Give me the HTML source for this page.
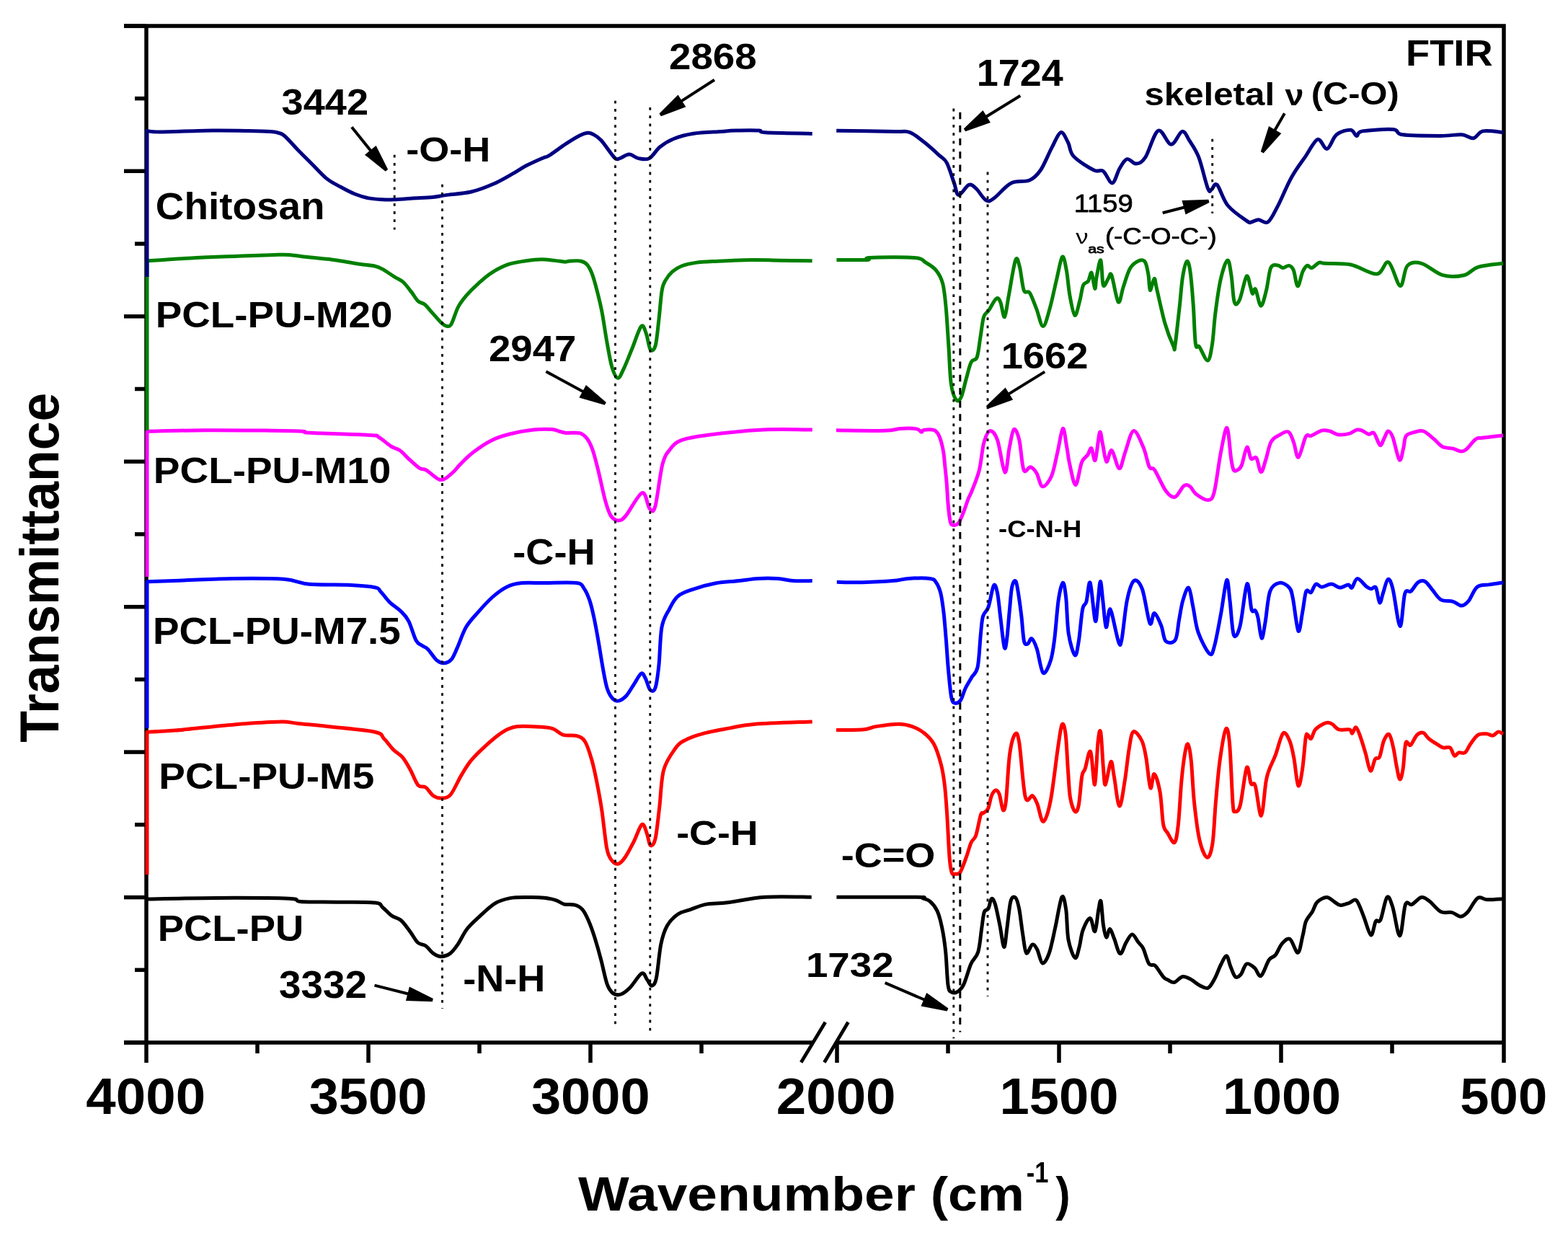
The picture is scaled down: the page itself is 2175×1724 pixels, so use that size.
<!DOCTYPE html>
<html><head><meta charset="utf-8"><title>FTIR</title>
<style>html,body{margin:0;padding:0;background:#fff;}svg{display:block;}</style></head>
<body><svg width="2175" height="1724" viewBox="0 0 2175 1724">
<rect width="2175" height="1724" fill="#fff"/>
<g stroke="#000" stroke-width="5.5" fill="none" stroke-linecap="butt">
<path d="M172,35.9 H2088.75 M203,33.15 V1474 M2086,33.15 V1474 M172,1446 H1127.8 M1160,1446 H2088.75"/>
<path d="M172,35.9 H203"/>
<path d="M187,136.6 H203"/>
<path d="M172,237.3 H203"/>
<path d="M187,338.1 H203"/>
<path d="M172,438.8 H203"/>
<path d="M187,539.5 H203"/>
<path d="M172,640.2 H203"/>
<path d="M187,740.9 H203"/>
<path d="M172,841.7 H203"/>
<path d="M187,942.4 H203"/>
<path d="M172,1043.1 H203"/>
<path d="M187,1143.8 H203"/>
<path d="M172,1244.6 H203"/>
<path d="M187,1345.3 H203"/>
<path d="M172,1446.0 H203"/>
<path d="M511.0,1446 V1474"/>
<path d="M819.0,1446 V1474"/>
<path d="M357.0,1446 V1461"/>
<path d="M665.0,1446 V1461"/>
<path d="M973.0,1446 V1461"/>
<path d="M1161.0,1446 V1474"/>
<path d="M1469.0,1446 V1474"/>
<path d="M1777.0,1446 V1474"/>
<path d="M1315.0,1446 V1461"/>
<path d="M1623.0,1446 V1461"/>
<path d="M1931.0,1446 V1461"/>
</g>
<g stroke="#000" stroke-width="4.8" fill="none"><path d="M1111.2,1473.5 L1144.8,1417.8 M1143.4,1473.5 L1176.5,1417.8"/></g>
<g fill="none" stroke-width="5" stroke-linejoin="round" stroke-linecap="butt">
<path stroke="#000000" d="M205.0,1247.0 C220.9,1246.7 267.6,1245.5 300.2,1245.4 C332.8,1245.3 380.9,1245.4 400.4,1246.2 C419.9,1247.0 405.9,1249.6 417.0,1250.4 C428.1,1251.2 450.0,1250.9 467.2,1251.2 C484.4,1251.5 509.4,1250.8 520.0,1252.0 C530.6,1253.2 526.8,1255.4 530.7,1258.4 C534.6,1261.4 539.2,1267.1 543.5,1270.1 C547.8,1273.1 552.0,1272.8 556.3,1276.5 C560.6,1280.2 565.2,1287.3 569.1,1292.5 C573.0,1297.7 576.2,1304.3 579.7,1307.5 C583.2,1310.7 586.8,1309.2 590.4,1311.7 C594.0,1314.2 597.5,1319.9 601.1,1322.4 C604.7,1324.9 607.8,1326.7 611.7,1326.7 C615.6,1326.7 620.6,1325.2 624.5,1322.4 C628.4,1319.6 631.3,1315.3 635.2,1309.6 C639.1,1303.9 643.0,1294.7 648.0,1288.3 C653.0,1281.9 658.7,1277.1 665.1,1271.2 C671.5,1265.3 679.3,1257.4 686.4,1253.1 C693.5,1248.8 700.0,1247.0 707.8,1245.6 C715.6,1244.2 725.6,1244.6 733.4,1244.5 C741.2,1244.4 748.3,1244.5 754.7,1245.2 C761.1,1245.9 767.2,1247.3 771.8,1248.8 C776.4,1250.3 778.1,1253.0 782.4,1254.1 C786.7,1255.2 793.1,1254.0 797.4,1255.2 C801.7,1256.5 804.8,1257.9 808.0,1261.6 C811.2,1265.3 813.8,1271.0 816.6,1277.6 C819.5,1284.2 822.3,1292.2 825.1,1301.1 C827.9,1310.0 830.8,1320.2 833.6,1330.9 C836.5,1341.6 839.4,1357.3 842.2,1365.1 C845.1,1372.9 847.5,1375.6 850.7,1377.9 C853.9,1380.2 857.5,1380.4 861.4,1379.0 C865.3,1377.6 869.4,1374.2 874.2,1369.4 C879.0,1364.6 886.3,1351.9 890.2,1350.1 C894.1,1348.3 895.3,1355.8 897.6,1358.7 C899.9,1361.6 901.9,1367.6 904.0,1367.2 C906.1,1366.8 908.3,1366.1 910.4,1356.5 C912.5,1346.9 914.3,1321.7 916.8,1309.6 C919.3,1297.5 921.5,1290.9 925.4,1284.0 C929.3,1277.1 935.0,1271.7 940.3,1268.0 C945.6,1264.3 950.8,1263.9 957.4,1261.6 C964.0,1259.3 971.3,1255.7 980.0,1254.1 C988.7,1252.5 996.1,1253.4 1009.6,1251.8 C1023.1,1250.2 1041.6,1245.5 1060.9,1244.3 C1080.2,1243.0 1114.9,1244.3 1125.7,1244.3"/>
<path stroke="#000000" d="M1160.4,1244.3 C1179.0,1244.3 1252.0,1244.0 1271.9,1244.3 C1291.8,1244.6 1277.0,1244.9 1280.0,1245.9 C1283.0,1246.9 1286.7,1247.2 1290.0,1250.1 C1293.3,1253.0 1297.2,1257.3 1300.0,1263.4 C1302.8,1269.5 1304.8,1277.3 1306.7,1286.8 C1308.7,1296.3 1310.3,1306.8 1311.7,1320.2 C1313.1,1333.6 1313.7,1357.6 1315.1,1366.9 C1316.5,1376.2 1317.9,1374.7 1320.1,1376.1 C1322.3,1377.5 1325.6,1377.1 1328.4,1375.3 C1331.2,1373.5 1333.7,1371.7 1336.8,1365.3 C1339.9,1358.9 1343.5,1344.4 1346.8,1336.9 C1350.1,1329.4 1354.3,1328.6 1356.8,1320.2 C1359.3,1311.8 1360.4,1296.0 1361.8,1286.8 C1363.2,1277.6 1363.7,1269.5 1365.2,1265.1 C1366.7,1260.6 1369.3,1263.2 1371.0,1260.1 C1372.7,1257.0 1373.7,1247.8 1375.2,1246.7 C1376.7,1245.6 1378.2,1247.3 1380.2,1253.4 C1382.2,1259.5 1384.8,1273.4 1386.9,1283.4 C1389.0,1293.4 1391.0,1312.9 1392.7,1313.5 C1394.4,1314.1 1395.4,1297.4 1396.9,1286.8 C1398.4,1276.2 1400.0,1257.1 1401.9,1250.1 C1403.9,1243.1 1406.6,1243.3 1408.6,1245.0 C1410.5,1246.7 1411.9,1251.8 1413.6,1260.1 C1415.3,1268.4 1416.9,1284.8 1418.6,1295.1 C1420.3,1305.4 1421.4,1319.4 1423.6,1321.9 C1425.8,1324.4 1429.4,1311.1 1431.9,1310.2 C1434.4,1309.3 1436.2,1312.5 1438.6,1316.8 C1441.0,1321.1 1443.3,1335.2 1446.1,1336.0 C1448.9,1336.8 1452.4,1330.1 1455.3,1321.9 C1458.2,1313.7 1460.8,1299.8 1463.7,1286.8 C1466.6,1273.8 1470.4,1248.4 1472.9,1244.2 C1475.4,1240.0 1477.2,1251.8 1478.7,1261.7 C1480.2,1271.6 1479.9,1292.4 1482.0,1303.5 C1484.1,1314.6 1488.7,1326.8 1491.2,1328.5 C1493.7,1330.2 1495.3,1319.9 1497.1,1313.5 C1498.9,1307.1 1499.6,1296.8 1502.1,1290.1 C1504.6,1283.4 1509.3,1273.1 1512.1,1273.4 C1514.9,1273.7 1516.8,1293.8 1518.8,1291.8 C1520.8,1289.8 1522.4,1268.7 1523.8,1261.7 C1525.2,1254.8 1526.0,1246.5 1527.1,1250.1 C1528.2,1253.7 1529.2,1275.1 1530.5,1283.4 C1531.8,1291.7 1533.1,1299.2 1534.6,1300.1 C1536.1,1300.9 1537.8,1288.2 1539.6,1288.5 C1541.4,1288.8 1543.1,1296.1 1545.5,1301.8 C1547.9,1307.5 1551.0,1321.9 1553.8,1322.7 C1556.6,1323.5 1559.4,1311.2 1562.2,1306.8 C1565.0,1302.3 1567.7,1296.0 1570.5,1296.0 C1573.3,1296.0 1576.4,1303.6 1578.9,1306.8 C1581.4,1310.0 1583.1,1310.2 1585.6,1315.2 C1588.1,1320.2 1591.1,1332.9 1593.9,1336.9 C1596.7,1340.9 1599.0,1336.4 1602.3,1339.4 C1605.6,1342.5 1611.0,1351.9 1614.0,1355.2 C1617.0,1358.5 1617.5,1357.9 1620.0,1359.1 C1622.5,1360.3 1625.6,1363.2 1628.9,1362.5 C1632.2,1361.8 1636.3,1355.5 1640.0,1354.7 C1643.7,1354.0 1647.1,1356.0 1651.2,1358.0 C1655.3,1360.0 1660.4,1364.9 1664.5,1366.9 C1668.6,1369.0 1672.4,1371.8 1675.7,1370.3 C1679.0,1368.8 1681.6,1363.4 1684.6,1358.0 C1687.6,1352.6 1690.7,1343.4 1693.5,1338.0 C1696.3,1332.6 1699.1,1325.4 1701.3,1325.8 C1703.5,1326.2 1704.8,1335.4 1706.8,1340.2 C1708.8,1345.0 1711.1,1352.8 1713.5,1354.7 C1715.9,1356.6 1718.7,1354.4 1721.3,1351.4 C1723.9,1348.4 1725.9,1338.4 1729.1,1336.9 C1732.2,1335.4 1736.9,1339.6 1740.2,1342.4 C1743.5,1345.2 1745.8,1355.4 1749.1,1353.6 C1752.4,1351.8 1756.9,1336.1 1760.3,1331.3 C1763.7,1326.5 1766.2,1328.3 1769.2,1324.6 C1772.2,1320.9 1774.8,1312.8 1778.1,1309.1 C1781.4,1305.4 1785.5,1300.4 1789.2,1302.4 C1792.9,1304.4 1797.3,1322.0 1800.3,1321.3 C1803.3,1320.5 1805.1,1305.1 1807.0,1297.9 C1808.9,1290.7 1809.3,1283.5 1811.5,1277.9 C1813.7,1272.3 1817.8,1269.0 1820.4,1264.5 C1823.0,1260.0 1823.7,1254.5 1827.0,1251.2 C1830.3,1247.9 1836.3,1244.5 1840.4,1244.5 C1844.5,1244.5 1848.3,1249.4 1851.5,1251.2 C1854.7,1253.0 1856.0,1255.4 1859.3,1255.6 C1862.6,1255.8 1867.9,1253.4 1871.6,1252.3 C1875.3,1251.2 1878.3,1245.8 1881.6,1248.9 C1884.9,1252.1 1888.3,1263.2 1891.6,1271.2 C1894.9,1279.2 1898.8,1295.7 1901.6,1296.8 C1904.4,1297.9 1906.1,1281.4 1908.3,1277.9 C1910.5,1274.4 1912.4,1281.3 1915.0,1275.7 C1917.6,1270.1 1921.1,1247.5 1923.9,1244.5 C1926.7,1241.5 1928.7,1248.9 1931.7,1257.8 C1934.7,1266.7 1938.7,1298.5 1941.7,1297.9 C1944.7,1297.4 1946.7,1261.7 1949.5,1254.5 C1952.3,1247.3 1954.7,1256.2 1958.4,1254.5 C1962.1,1252.8 1967.7,1245.2 1971.8,1244.5 C1975.9,1243.8 1978.5,1246.8 1982.9,1250.1 C1987.4,1253.4 1993.3,1261.9 1998.5,1264.5 C2003.7,1267.1 2009.5,1264.5 2014.1,1265.6 C2018.7,1266.7 2022.6,1271.4 2026.3,1271.2 C2030.0,1271.0 2032.4,1268.8 2036.3,1264.5 C2040.2,1260.2 2045.2,1248.4 2049.7,1245.6 C2054.1,1242.8 2057.1,1247.6 2063.0,1247.8 C2068.9,1248.0 2081.3,1246.9 2085.0,1246.7"/>
<path stroke="#ff0000" d="M204.0,1213.0 L204.0,1015.2 C210.4,1014.9 227.4,1014.4 242.7,1013.1 C258.0,1011.9 278.2,1009.4 296.0,1007.7 C313.8,1006.0 333.3,1004.1 349.3,1003.0 C365.3,1001.9 381.3,1000.8 392.0,1000.9 C402.7,1001.0 402.7,1002.4 413.4,1003.5 C424.1,1004.6 438.2,1005.8 456.0,1007.7 C473.8,1009.7 507.2,1012.4 520.0,1015.2 C532.8,1018.1 528.5,1020.7 532.8,1024.8 C537.1,1028.9 541.3,1035.4 545.6,1039.7 C549.9,1044.0 554.5,1045.8 558.4,1050.4 C562.3,1055.0 565.5,1061.1 569.1,1067.5 C572.7,1073.9 576.2,1084.7 579.8,1088.8 C583.3,1092.9 586.8,1089.5 590.4,1092.0 C594.0,1094.5 597.5,1101.2 601.1,1103.7 C604.7,1106.2 607.9,1107.1 611.8,1106.9 C615.7,1106.7 619.9,1108.0 624.6,1102.7 C629.3,1097.4 635.1,1083.2 640.0,1075.1 C644.9,1067.0 648.1,1061.2 653.9,1054.2 C659.7,1047.2 667.4,1039.9 674.8,1033.3 C682.1,1026.7 691.0,1019.0 698.0,1014.8 C705.0,1010.5 709.5,1009.0 716.5,1007.8 C723.5,1006.6 731.6,1007.4 739.7,1007.8 C747.8,1008.2 758.2,1008.2 765.2,1010.1 C772.2,1012.0 775.7,1017.6 781.5,1019.4 C787.3,1021.1 795.0,1019.0 800.0,1020.6 C805.0,1022.2 808.1,1023.1 811.6,1028.7 C815.1,1034.3 818.2,1044.9 820.9,1054.2 C823.6,1063.5 825.5,1072.8 827.8,1084.4 C830.1,1096.0 832.5,1108.3 834.8,1123.8 C837.1,1139.2 839.5,1165.5 841.8,1177.1 C844.1,1188.7 846.0,1189.9 848.7,1193.4 C851.4,1196.9 854.9,1198.8 858.0,1198.0 C861.1,1197.2 863.8,1193.7 867.3,1188.7 C870.8,1183.7 875.0,1175.3 878.9,1167.8 C882.8,1160.3 887.4,1145.4 890.5,1143.5 C893.6,1141.6 895.5,1151.5 897.4,1156.3 C899.3,1161.1 900.2,1171.3 902.1,1172.5 C904.0,1173.7 906.9,1172.1 909.0,1163.2 C911.1,1154.3 912.9,1134.9 914.8,1119.1 C916.7,1103.2 916.9,1081.6 920.6,1068.1 C924.3,1054.6 931.8,1045.0 936.8,1038.0 C941.8,1031.0 944.2,1029.9 950.8,1026.4 C957.4,1022.9 966.3,1019.8 976.3,1017.1 C986.3,1014.4 999.4,1012.2 1011.0,1010.1 C1022.6,1008.0 1026.5,1005.9 1045.8,1004.4 C1065.1,1002.9 1113.2,1001.5 1126.7,1000.9"/>
<path stroke="#ff0000" d="M1160.0,1012.6 C1166.4,1012.5 1189.2,1012.5 1198.4,1011.7 C1207.6,1010.9 1207.0,1008.9 1215.1,1007.6 C1223.2,1006.4 1238.6,1004.2 1246.9,1004.2 C1255.2,1004.2 1259.4,1005.5 1265.2,1007.6 C1271.0,1009.7 1276.9,1012.7 1281.9,1016.7 C1286.9,1020.7 1291.4,1024.6 1295.3,1031.8 C1299.2,1039.0 1302.8,1050.6 1305.3,1060.1 C1307.8,1069.5 1308.9,1076.8 1310.3,1088.5 C1311.7,1100.2 1312.6,1113.6 1313.7,1130.3 C1314.8,1147.0 1315.9,1175.3 1317.0,1188.7 C1318.1,1202.1 1318.9,1206.5 1320.3,1210.4 C1321.7,1214.3 1323.3,1212.2 1325.3,1212.1 C1327.2,1212.0 1329.5,1213.5 1332.0,1209.6 C1334.5,1205.7 1337.9,1195.5 1340.4,1188.7 C1342.9,1181.9 1344.8,1173.7 1347.0,1168.7 C1349.2,1163.7 1351.5,1165.1 1353.7,1158.7 C1355.9,1152.3 1358.7,1135.5 1360.4,1130.3 C1362.1,1125.1 1362.0,1129.2 1363.7,1127.8 C1365.4,1126.4 1368.5,1125.9 1370.4,1121.9 C1372.4,1117.9 1373.6,1107.9 1375.4,1103.6 C1377.2,1099.3 1379.5,1096.3 1381.3,1096.0 C1383.1,1095.7 1384.6,1097.3 1386.3,1101.9 C1388.0,1106.5 1389.8,1122.2 1391.3,1123.6 C1392.8,1125.0 1394.0,1123.0 1395.5,1110.2 C1397.0,1097.4 1398.4,1062.1 1400.5,1046.8 C1402.6,1031.5 1405.8,1021.2 1408.0,1018.4 C1410.2,1015.6 1411.4,1015.6 1413.8,1030.1 C1416.2,1044.6 1419.1,1093.0 1422.2,1105.2 C1425.3,1117.5 1429.4,1101.9 1432.2,1103.6 C1435.0,1105.3 1436.4,1109.2 1438.9,1115.2 C1441.4,1121.2 1444.1,1140.3 1447.2,1139.5 C1450.3,1138.7 1454.0,1127.0 1457.3,1110.2 C1460.6,1093.4 1464.7,1055.9 1467.3,1038.4 C1469.9,1020.9 1471.3,1008.3 1473.1,1005.0 C1474.9,1001.7 1476.7,1007.7 1478.1,1018.4 C1479.5,1029.1 1480.4,1054.5 1481.5,1069.1 C1482.6,1083.7 1482.9,1096.8 1484.5,1106.2 C1486.1,1115.6 1489.1,1123.8 1491.1,1125.5 C1493.1,1127.2 1494.7,1124.7 1496.3,1116.5 C1497.9,1108.3 1499.3,1084.9 1500.8,1076.5 C1502.3,1068.1 1503.2,1071.8 1505.2,1066.1 C1507.2,1060.4 1510.5,1038.6 1512.7,1042.3 C1514.9,1046.0 1516.9,1090.5 1518.6,1088.3 C1520.3,1086.1 1521.6,1041.1 1523.0,1029.0 C1524.4,1016.9 1525.5,1009.4 1526.8,1015.6 C1528.0,1021.8 1529.4,1054.0 1530.5,1066.1 C1531.6,1078.2 1531.7,1089.9 1533.4,1088.3 C1535.1,1086.7 1538.9,1058.4 1540.9,1056.4 C1542.9,1054.4 1543.3,1066.2 1545.3,1076.5 C1547.3,1086.8 1550.2,1116.8 1552.7,1118.0 C1555.2,1119.2 1557.9,1097.0 1560.1,1083.9 C1562.3,1070.8 1564.1,1050.9 1566.1,1039.4 C1568.1,1027.9 1569.0,1016.9 1572.0,1014.9 C1575.0,1012.9 1580.9,1021.5 1583.9,1027.5 C1586.9,1033.5 1587.8,1040.3 1589.8,1051.2 C1591.8,1062.1 1593.9,1089.1 1595.8,1092.8 C1597.7,1096.5 1598.8,1072.5 1601.0,1073.5 C1603.2,1074.5 1607.0,1087.1 1609.1,1098.7 C1611.2,1110.3 1611.9,1133.9 1613.6,1143.3 C1615.3,1152.7 1616.9,1150.9 1619.5,1155.1 C1622.1,1159.3 1626.7,1170.5 1629.2,1168.5 C1631.7,1166.5 1632.8,1157.4 1634.4,1143.3 C1636.0,1129.2 1637.3,1100.0 1638.8,1083.9 C1640.3,1067.8 1641.8,1055.5 1643.3,1046.8 C1644.8,1038.1 1646.2,1030.7 1647.7,1031.9 C1649.2,1033.1 1650.7,1040.6 1652.2,1054.2 C1653.7,1067.8 1654.6,1095.0 1656.6,1113.6 C1658.6,1132.1 1661.0,1152.9 1664.0,1165.5 C1667.0,1178.1 1671.4,1188.5 1674.4,1189.3 C1677.4,1190.0 1679.9,1182.6 1681.9,1170.0 C1683.9,1157.4 1684.6,1132.9 1686.3,1113.6 C1688.0,1094.3 1689.8,1071.3 1692.2,1054.2 C1694.6,1037.1 1698.2,1014.9 1700.4,1011.2 C1702.6,1007.5 1704.0,1014.8 1705.6,1031.9 C1707.2,1049.0 1708.8,1098.0 1710.0,1113.6 C1711.2,1129.2 1711.3,1125.0 1713.0,1125.5 C1714.7,1126.0 1717.7,1126.7 1720.4,1116.5 C1723.1,1106.3 1726.9,1069.5 1729.4,1064.6 C1731.9,1059.7 1733.3,1082.7 1735.3,1086.9 C1737.3,1091.1 1738.8,1082.4 1741.2,1089.8 C1743.6,1097.2 1746.9,1132.4 1749.4,1131.4 C1751.9,1130.4 1754.2,1094.5 1756.1,1083.9 C1757.9,1073.3 1758.3,1073.8 1760.5,1067.6 C1762.7,1061.4 1766.2,1055.2 1769.4,1046.8 C1772.6,1038.4 1776.5,1020.3 1779.8,1017.1 C1783.0,1013.9 1786.4,1021.8 1788.9,1027.5 C1791.4,1033.2 1792.8,1040.8 1794.8,1051.2 C1796.8,1061.6 1798.8,1087.3 1800.8,1089.8 C1802.8,1092.3 1805.0,1077.2 1806.7,1066.1 C1808.4,1055.0 1810.0,1030.8 1811.2,1023.0 C1812.4,1015.2 1812.9,1019.0 1814.1,1019.3 C1815.3,1019.5 1816.9,1025.7 1818.6,1024.5 C1820.3,1023.3 1821.5,1015.4 1824.5,1011.9 C1827.5,1008.4 1833.4,1005.3 1836.4,1003.7 C1839.4,1002.1 1840.3,1002.2 1842.3,1002.3 C1844.3,1002.4 1845.8,1002.9 1848.3,1004.5 C1850.8,1006.1 1853.2,1010.7 1857.2,1011.9 C1861.2,1013.1 1868.9,1011.0 1872.0,1011.9 C1875.1,1012.8 1874.2,1017.6 1875.7,1017.1 C1877.2,1016.6 1879.0,1008.1 1880.9,1008.9 C1882.8,1009.6 1884.7,1015.5 1886.9,1021.6 C1889.1,1027.7 1892.0,1037.4 1894.3,1045.3 C1896.6,1053.2 1898.8,1067.9 1901.0,1069.1 C1903.2,1070.3 1905.5,1055.9 1907.6,1052.7 C1909.7,1049.5 1911.6,1054.0 1913.6,1049.8 C1915.6,1045.6 1917.3,1032.7 1919.5,1027.5 C1921.7,1022.3 1924.7,1016.9 1926.9,1018.6 C1929.1,1020.3 1931.2,1030.5 1932.9,1037.9 C1934.6,1045.3 1935.8,1055.9 1937.3,1063.1 C1938.8,1070.3 1940.3,1080.4 1941.8,1080.9 C1943.3,1081.4 1944.8,1074.5 1946.2,1066.1 C1947.6,1057.7 1948.2,1036.0 1949.9,1030.5 C1951.6,1025.0 1954.0,1035.3 1956.6,1033.4 C1959.2,1031.5 1962.5,1022.1 1965.5,1019.3 C1968.5,1016.5 1971.7,1015.5 1974.4,1016.4 C1977.1,1017.3 1978.4,1021.7 1981.9,1024.5 C1985.4,1027.3 1991.8,1031.3 1995.2,1033.4 C1998.7,1035.5 1999.9,1036.5 2002.6,1037.1 C2005.3,1037.7 2009.0,1035.2 2011.5,1037.1 C2014.0,1039.0 2015.5,1047.2 2017.5,1048.3 C2019.5,1049.4 2020.9,1044.5 2023.4,1043.8 C2025.9,1043.0 2029.6,1045.8 2032.3,1043.8 C2035.0,1041.8 2036.7,1036.0 2039.7,1031.9 C2042.7,1027.8 2046.4,1021.6 2050.1,1019.3 C2053.8,1016.9 2058.5,1017.7 2062.0,1017.8 C2065.5,1017.9 2068.2,1020.6 2070.9,1020.1 C2073.6,1019.6 2076.0,1015.2 2078.3,1014.9 C2080.7,1014.5 2083.9,1017.5 2085.0,1018.0"/>
<path stroke="#0000ff" d="M204.0,1010.0 L204.0,806.8 C212.2,806.5 233.0,805.7 252.9,805.0 C272.8,804.3 299.9,802.7 323.4,802.4 C346.9,802.1 376.3,802.0 393.9,803.3 C411.5,804.6 414.4,809.0 429.1,810.3 C443.8,811.6 466.9,810.5 482.0,811.2 C497.1,811.9 512.3,813.1 520.0,814.7 C527.7,816.3 524.8,817.4 528.2,820.8 C531.6,824.2 535.6,830.5 540.4,835.1 C545.1,839.7 552.3,844.0 556.7,848.4 C561.1,852.8 563.5,855.0 566.9,861.6 C570.3,868.2 574.0,882.6 577.1,888.2 C580.2,893.8 582.6,893.3 585.3,895.3 C588.0,897.3 590.1,897.0 593.5,900.4 C596.9,903.8 602.0,912.5 605.7,915.7 C609.4,918.9 612.5,920.0 615.9,919.8 C619.3,919.6 623.0,918.3 626.1,914.7 C629.2,911.1 630.9,905.9 634.3,898.4 C637.7,890.9 641.7,878.0 646.5,869.8 C651.3,861.6 656.8,856.4 662.9,849.4 C669.0,842.4 676.5,834.0 683.3,828.0 C690.1,822.0 696.9,816.9 703.7,813.7 C710.5,810.5 715.6,809.5 724.1,808.6 C732.6,807.8 742.1,808.6 754.7,808.6 C767.3,808.6 790.4,807.4 799.6,808.6 C808.8,809.8 806.7,811.6 809.8,815.7 C812.9,819.8 815.6,826.1 818.0,833.1 C820.4,840.1 822.1,848.1 824.1,857.6 C826.1,867.1 828.2,878.7 830.2,890.2 C832.2,901.8 834.3,916.0 836.3,926.9 C838.3,937.8 840.0,948.4 842.4,955.5 C844.8,962.6 847.9,967.1 850.6,969.8 C853.3,972.5 855.7,972.6 858.8,971.8 C861.9,970.9 865.6,968.4 869.0,964.7 C872.4,961.0 875.8,954.5 879.2,949.4 C882.6,944.3 886.7,935.5 889.4,934.1 C892.1,932.7 893.5,937.5 895.5,941.2 C897.5,944.9 899.4,954.3 901.6,956.5 C903.8,958.7 906.8,960.1 908.8,954.5 C910.8,948.9 912.4,937.0 913.9,922.9 C915.4,908.8 915.6,882.7 918.0,869.8 C920.4,856.9 924.5,852.4 928.2,845.3 C931.9,838.1 934.9,831.6 940.4,826.9 C945.9,822.2 952.5,820.3 961.3,817.3 C970.1,814.3 982.6,810.8 993.3,808.8 C1004.0,806.8 1015.7,806.7 1025.3,805.6 C1034.9,804.5 1042.0,802.9 1050.9,802.4 C1059.8,801.9 1070.5,801.9 1078.7,802.4 C1086.9,802.9 1092.0,805.1 1100.0,805.6 C1108.0,806.1 1122.2,805.6 1126.7,805.6"/>
<path stroke="#0000ff" d="M1160.8,807.3 C1166.7,807.4 1183.0,808.0 1196.0,807.7 C1209.0,807.4 1228.0,806.5 1238.7,805.6 C1249.4,804.7 1251.5,802.9 1260.0,802.4 C1268.5,801.9 1283.5,801.5 1289.9,802.4 C1296.3,803.3 1295.9,804.3 1298.4,807.7 C1300.9,811.1 1303.0,815.6 1304.8,822.7 C1306.6,829.8 1307.8,839.7 1309.1,850.4 C1310.3,861.1 1311.2,873.5 1312.3,886.7 C1313.4,899.9 1314.2,915.9 1315.5,929.4 C1316.8,942.9 1318.2,960.2 1319.8,967.8 C1321.4,975.4 1323.0,974.7 1325.1,975.2 C1327.2,975.7 1330.3,974.4 1332.6,971.0 C1334.9,967.6 1336.5,960.2 1339.0,955.0 C1341.5,949.8 1344.7,945.0 1347.5,940.0 C1350.3,935.0 1354.0,935.1 1356.1,925.1 C1358.2,915.1 1359.1,892.0 1360.3,880.3 C1361.5,868.6 1361.7,861.1 1363.5,854.7 C1365.3,848.3 1368.5,849.0 1371.0,841.9 C1373.5,834.8 1376.3,815.3 1378.4,812.0 C1380.5,808.7 1381.9,814.7 1383.5,822.3 C1385.1,829.9 1386.3,844.9 1387.9,857.5 C1389.5,870.1 1391.7,893.4 1393.2,898.1 C1394.7,902.8 1395.5,894.2 1396.7,885.7 C1397.9,877.2 1399.1,859.0 1400.3,847.0 C1401.5,835.0 1402.3,820.3 1403.8,813.5 C1405.3,806.7 1407.5,803.8 1409.1,806.4 C1410.7,809.0 1412.2,821.1 1413.5,829.3 C1414.8,837.5 1415.8,845.8 1417.0,855.8 C1418.2,865.8 1419.0,883.1 1420.5,889.3 C1422.0,895.5 1424.0,893.4 1425.8,892.8 C1427.6,892.2 1429.0,884.5 1431.1,885.7 C1433.2,886.9 1435.5,891.9 1438.2,899.8 C1440.9,907.7 1443.8,930.6 1447.0,933.3 C1450.2,935.9 1454.9,923.6 1457.5,915.7 C1460.1,907.8 1461.0,899.5 1462.8,885.7 C1464.6,871.9 1466.2,845.8 1468.1,832.9 C1470.0,820.0 1472.5,808.8 1474.3,808.2 C1476.1,807.6 1477.4,817.5 1478.7,829.3 C1480.0,841.0 1480.2,865.5 1482.2,878.7 C1484.2,891.9 1488.7,906.9 1491.0,908.7 C1493.3,910.5 1494.5,899.9 1496.3,889.3 C1498.1,878.7 1499.8,854.3 1501.6,845.2 C1503.4,836.1 1505.1,840.8 1506.9,834.6 C1508.7,828.4 1510.2,803.8 1512.2,808.2 C1514.2,812.6 1517.4,856.4 1519.2,861.1 C1521.0,865.8 1521.6,845.5 1522.8,836.4 C1524.0,827.3 1525.1,807.0 1526.3,806.4 C1527.5,805.8 1528.5,822.3 1529.8,832.9 C1531.1,843.5 1532.7,867.5 1534.2,869.9 C1535.7,872.2 1537.3,850.2 1538.6,847.0 C1539.9,843.8 1539.9,843.2 1542.1,850.5 C1544.3,857.8 1549.4,885.1 1551.8,891.0 C1554.2,896.9 1554.3,895.4 1556.2,885.7 C1558.1,876.0 1560.5,846.2 1563.3,832.9 C1566.1,819.5 1569.5,808.2 1573.0,805.6 C1576.5,803.0 1580.7,807.2 1584.4,817.0 C1588.1,826.8 1592.2,859.0 1595.0,864.6 C1597.8,870.2 1598.5,849.9 1601.2,850.5 C1603.9,851.1 1608.3,861.6 1610.9,868.1 C1613.5,874.6 1613.8,886.1 1617.0,889.3 C1620.2,892.5 1627.2,892.5 1630.3,887.5 C1633.4,882.5 1633.8,868.4 1635.6,859.3 C1637.3,850.2 1638.6,840.2 1640.8,832.9 C1643.0,825.5 1646.4,813.7 1648.8,815.2 C1651.2,816.7 1652.7,831.4 1654.9,841.7 C1657.1,852.0 1658.2,866.0 1662.0,876.9 C1665.8,887.8 1674.1,903.9 1677.9,906.9 C1681.7,909.9 1682.3,904.0 1684.9,894.6 C1687.5,885.2 1690.9,865.5 1693.7,850.5 C1696.5,835.5 1699.5,807.6 1701.6,804.7 C1703.6,801.8 1704.4,820.3 1706.0,832.9 C1707.6,845.5 1709.0,874.6 1711.3,880.5 C1713.6,886.4 1717.0,879.9 1720.1,868.1 C1723.2,856.4 1727.1,813.8 1729.8,810.0 C1732.5,806.2 1734.1,839.0 1736.0,845.2 C1737.9,851.4 1739.8,845.1 1741.3,847.0 C1742.8,848.9 1743.5,850.4 1745.0,856.8 C1746.5,863.2 1748.3,884.1 1750.0,885.2 C1751.7,886.3 1753.0,874.4 1755.0,863.5 C1757.0,852.6 1758.4,829.3 1761.7,820.1 C1765.0,810.9 1770.6,809.2 1775.1,808.4 C1779.5,807.6 1785.4,811.5 1788.4,815.1 C1791.5,818.7 1791.3,820.1 1793.4,830.1 C1795.5,840.1 1798.7,872.1 1800.9,875.2 C1803.1,878.3 1805.0,857.7 1806.8,848.5 C1808.6,839.3 1809.8,824.6 1811.8,820.1 C1813.8,815.6 1816.3,823.5 1818.5,821.8 C1820.7,820.1 1822.7,811.4 1825.2,810.1 C1827.7,808.8 1829.9,814.2 1833.5,814.2 C1837.1,814.2 1842.7,810.0 1846.9,810.1 C1851.1,810.2 1854.7,815.0 1858.6,815.1 C1862.5,815.2 1867.4,810.9 1870.2,810.9 C1873.0,810.9 1873.1,816.5 1875.2,815.1 C1877.3,813.7 1879.5,802.9 1882.8,802.6 C1886.1,802.3 1892.1,811.0 1895.3,813.4 C1898.5,815.8 1899.8,816.5 1902.0,816.8 C1904.2,817.1 1906.6,811.9 1908.6,815.1 C1910.5,818.3 1912.0,834.9 1913.7,836.0 C1915.4,837.1 1916.8,827.2 1918.7,821.8 C1920.6,816.4 1923.1,804.2 1925.3,803.4 C1927.5,802.6 1929.2,805.9 1932.0,816.8 C1934.8,827.6 1939.2,867.4 1942.0,868.5 C1944.8,869.6 1946.2,831.5 1948.7,823.4 C1951.2,815.3 1954.0,822.7 1957.1,820.1 C1960.2,817.5 1963.8,809.8 1967.1,807.6 C1970.4,805.4 1973.8,804.9 1977.1,806.7 C1980.4,808.5 1983.5,814.2 1987.1,818.4 C1990.7,822.6 1994.1,829.1 1998.8,831.8 C2003.5,834.4 2010.8,832.9 2015.5,834.3 C2020.2,835.7 2023.6,840.2 2027.2,840.1 C2030.8,840.0 2033.6,837.7 2037.2,833.4 C2040.8,829.1 2044.2,818.0 2048.9,814.2 C2053.6,810.5 2059.6,811.9 2065.6,810.9 C2071.6,809.9 2081.8,808.5 2085.0,808.0"/>
<path stroke="#ff00ff" d="M204.0,800.0 L204.0,598.2 C217.2,598.0 256.3,596.9 283.5,596.7 C310.7,596.5 344.4,596.9 367.0,597.1 C389.6,597.4 408.8,597.7 419.2,598.2 C429.6,598.7 414.0,599.4 429.6,600.3 C445.2,601.2 497.1,602.4 513.1,603.4 C529.1,604.4 520.7,603.9 525.6,606.5 C530.5,609.1 537.4,616.0 542.3,619.0 C547.2,622.0 550.6,621.7 554.8,624.7 C559.0,627.7 562.9,632.7 567.4,636.8 C571.9,640.9 578.2,646.9 582.0,649.3 C585.8,651.7 587.5,650.0 590.3,651.4 C593.1,652.8 595.6,655.4 598.7,657.7 C601.8,660.0 606.0,664.0 609.1,665.0 C612.2,666.0 613.9,665.8 617.4,663.9 C620.9,662.0 626.5,656.8 630.0,653.5 C633.5,650.2 633.9,648.4 638.3,644.1 C642.6,639.8 648.9,633.0 656.1,627.5 C663.3,622.0 673.1,615.1 681.6,610.9 C690.1,606.6 697.3,604.5 707.1,602.0 C716.9,599.5 730.5,597.2 740.3,596.1 C750.1,595.0 758.6,594.9 765.8,595.6 C773.0,596.3 777.3,599.4 783.7,600.2 C790.1,601.1 799.0,599.3 804.1,600.7 C809.2,602.1 811.3,604.6 814.3,608.4 C817.3,612.2 819.3,616.5 821.9,623.7 C824.5,630.9 826.6,639.8 829.6,651.7 C832.6,663.6 836.8,684.5 839.8,695.1 C842.8,705.7 844.4,711.0 847.4,715.5 C850.4,720.0 854.3,721.9 857.7,721.9 C861.1,721.9 862.4,721.9 867.9,715.5 C873.4,709.1 885.3,685.3 890.8,683.6 C896.3,681.9 898.0,702.1 901.0,705.3 C904.0,708.5 905.7,713.0 908.7,702.8 C911.7,692.6 915.5,657.3 918.9,644.1 C922.3,630.9 924.9,629.2 929.1,623.7 C933.4,618.2 935.5,614.3 944.4,610.9 C953.3,607.5 963.6,605.8 982.7,603.3 C1001.8,600.8 1035.2,597.3 1059.2,596.1 C1083.2,594.9 1115.5,596.1 1126.8,596.1"/>
<path stroke="#ff00ff" d="M1159.9,596.7 C1171.2,596.8 1212.7,597.7 1227.6,597.3 C1242.5,596.9 1242.2,594.8 1249.5,594.4 C1256.8,594.0 1266.5,594.1 1271.3,594.9 C1276.1,595.7 1276.6,599.0 1278.3,599.3 C1280.0,599.5 1278.5,596.9 1281.3,596.4 C1284.1,595.9 1291.9,595.5 1295.2,596.4 C1298.5,597.3 1299.4,598.7 1301.2,601.8 C1303.0,604.9 1304.8,610.1 1306.1,614.8 C1307.4,619.4 1308.3,623.9 1309.1,629.7 C1309.9,635.5 1310.4,643.0 1311.1,649.6 C1311.8,656.2 1312.4,661.2 1313.1,669.5 C1313.8,677.8 1314.3,690.3 1315.1,699.3 C1315.9,708.2 1317.1,718.4 1318.1,723.2 C1319.1,728.0 1319.6,727.4 1321.1,728.1 C1322.6,728.8 1325.3,728.4 1327.0,727.6 C1328.7,726.8 1329.3,726.3 1331.0,723.2 C1332.7,720.1 1335.0,714.4 1337.0,709.2 C1339.0,704.1 1341.1,697.0 1342.9,692.3 C1344.7,687.6 1345.4,687.9 1348.0,681.1 C1350.6,674.4 1355.6,662.9 1358.4,651.8 C1361.2,640.7 1362.2,623.3 1364.7,614.3 C1367.2,605.3 1370.0,598.3 1373.1,597.6 C1376.2,596.9 1380.0,600.5 1383.5,610.1 C1387.0,619.7 1391.1,653.3 1393.9,655.0 C1396.7,656.7 1398.1,630.4 1400.2,620.5 C1402.3,610.6 1404.1,597.2 1406.4,595.5 C1408.7,593.8 1411.5,600.7 1413.8,610.1 C1416.1,619.5 1417.4,645.5 1420.0,651.8 C1422.6,658.1 1426.4,647.0 1429.4,647.7 C1432.4,648.4 1435.0,651.5 1437.8,656.0 C1440.6,660.5 1442.6,674.1 1446.1,674.8 C1449.6,675.5 1455.1,668.2 1458.6,660.2 C1462.1,652.2 1464.4,637.8 1467.0,626.8 C1469.6,615.8 1472.2,595.8 1474.3,594.4 C1476.4,593.0 1477.9,610.2 1479.5,618.4 C1481.1,626.6 1481.6,634.5 1483.7,643.5 C1485.8,652.5 1489.2,673.1 1492.0,672.7 C1494.8,672.4 1497.6,648.4 1500.4,641.4 C1503.2,634.4 1506.5,634.3 1508.7,631.0 C1511.0,627.7 1512.2,620.4 1513.9,621.6 C1515.7,622.8 1517.3,641.9 1519.2,638.3 C1521.1,634.6 1523.7,603.4 1525.4,599.7 C1527.1,596.1 1528.0,609.6 1529.6,616.4 C1531.2,623.2 1532.7,639.0 1534.8,640.4 C1536.9,641.8 1539.1,623.1 1542.1,624.7 C1545.1,626.3 1549.5,649.4 1552.6,649.8 C1555.7,650.1 1557.6,635.5 1560.9,626.8 C1564.2,618.1 1568.2,598.6 1572.4,597.6 C1576.6,596.6 1582.3,612.1 1586.0,620.5 C1589.7,628.9 1591.7,642.5 1594.3,647.7 C1596.9,652.9 1597.8,646.2 1601.6,651.8 C1605.4,657.4 1612.6,674.8 1617.3,681.1 C1622.0,687.4 1625.6,690.6 1629.8,689.4 C1634.0,688.2 1638.8,676.2 1642.3,673.8 C1645.8,671.4 1647.9,672.9 1650.7,674.8 C1653.5,676.7 1654.8,682.1 1659.0,685.2 C1663.2,688.3 1671.5,694.0 1675.7,693.6 C1679.9,693.2 1681.3,693.2 1684.1,683.1 C1686.9,673.0 1689.8,647.6 1692.4,633.1 C1695.1,618.6 1698.1,601.7 1700.0,596.2 C1701.9,590.7 1702.5,593.6 1703.7,599.9 C1704.9,606.2 1706.2,625.6 1707.4,634.2 C1708.6,642.9 1709.5,648.9 1711.1,651.8 C1712.6,654.7 1714.8,652.9 1716.7,651.8 C1718.6,650.7 1720.1,650.5 1722.3,645.3 C1724.5,640.0 1727.5,621.8 1729.7,620.3 C1731.9,618.8 1733.1,633.6 1735.3,636.1 C1737.5,638.6 1740.4,632.0 1742.7,635.1 C1745.0,638.2 1747.0,654.1 1749.2,654.6 C1751.4,655.1 1753.4,644.9 1755.7,637.9 C1758.0,630.9 1760.0,618.6 1763.1,612.9 C1766.2,607.2 1770.2,605.9 1774.2,603.6 C1778.2,601.3 1783.8,597.3 1787.2,599.0 C1790.6,600.7 1792.3,607.9 1794.6,613.8 C1796.9,619.7 1798.3,635.6 1801.1,634.2 C1803.9,632.8 1808.4,610.5 1811.3,605.5 C1814.2,600.5 1815.0,605.9 1818.7,604.5 C1822.4,603.1 1829.3,598.2 1833.6,597.1 C1837.9,596.0 1841.0,597.1 1844.7,598.0 C1848.4,598.9 1851.5,602.1 1855.8,602.7 C1860.1,603.3 1866.4,602.8 1870.7,601.7 C1875.0,600.6 1878.7,597.0 1881.8,596.2 C1884.9,595.4 1886.4,596.1 1889.2,597.1 C1892.0,598.1 1895.7,601.7 1898.5,602.3 C1901.3,602.9 1903.3,598.3 1905.9,600.8 C1908.5,603.3 1912.0,616.3 1914.3,617.5 C1916.6,618.7 1918.1,611.5 1919.9,608.2 C1921.8,605.0 1923.4,598.3 1925.4,598.0 C1927.4,597.7 1929.3,599.8 1931.9,606.4 C1934.5,613.0 1938.7,635.4 1941.2,637.9 C1943.7,640.4 1945.2,626.8 1946.8,621.2 C1948.3,615.6 1947.7,608.2 1950.5,604.5 C1953.3,600.8 1959.5,600.1 1963.5,599.0 C1967.5,597.9 1970.3,596.3 1974.6,598.0 C1978.9,599.7 1985.1,605.6 1989.4,609.2 C1993.7,612.8 1996.3,617.2 2000.6,619.4 C2004.9,621.6 2011.1,621.1 2015.4,622.2 C2019.7,623.3 2023.4,625.8 2026.5,625.9 C2029.6,626.0 2030.6,625.9 2034.0,623.1 C2037.4,620.3 2043.2,611.8 2046.9,609.2 C2050.6,606.6 2049.8,608.2 2056.2,607.3 C2062.5,606.4 2080.2,604.5 2085.0,604.0"/>
<path stroke="#008000" d="M204.0,597.0 L204.0,361.8 C214.2,361.1 243.9,359.0 264.9,357.9 C285.9,356.8 310.4,356.1 329.9,355.3 C349.4,354.6 369.9,353.7 381.8,353.4 C393.7,353.1 394.8,353.0 401.3,353.4 C407.8,353.8 411.1,354.9 420.8,356.0 C430.5,357.1 451.0,358.9 459.7,359.9 C468.4,360.9 467.1,361.0 473.2,362.0 C479.3,363.0 488.7,364.8 496.4,366.0 C504.1,367.2 513.8,367.7 519.6,369.0 C525.4,370.3 526.6,371.1 531.2,373.6 C535.8,376.1 542.8,381.2 547.4,384.1 C552.0,387.0 555.1,387.5 559.0,391.0 C562.9,394.5 567.1,400.4 570.6,404.9 C574.1,409.3 576.8,414.8 579.9,417.7 C583.0,420.6 585.6,419.4 589.1,422.3 C592.6,425.2 596.8,430.9 600.7,435.1 C604.6,439.4 609.0,444.9 612.3,447.8 C615.6,450.7 618.2,452.3 620.5,452.5 C622.8,452.7 623.8,453.4 626.3,449.0 C628.8,444.6 632.0,432.4 635.5,425.8 C639.0,419.2 642.5,415.0 647.1,409.6 C651.8,404.2 657.6,398.5 663.4,393.3 C669.2,388.1 674.9,382.7 681.9,378.3 C688.9,373.9 697.4,369.4 705.1,366.7 C712.8,364.0 720.6,363.2 728.3,362.0 C736.0,360.8 743.8,359.7 751.5,359.7 C759.2,359.7 769.3,361.4 774.7,362.0 C780.1,362.6 781.3,363.2 784.0,363.2 C786.7,363.2 787.4,362.2 790.9,362.0 C794.4,361.8 800.9,361.2 804.8,362.0 C808.7,362.8 811.4,363.8 814.1,366.7 C816.8,369.6 818.8,373.4 821.1,379.4 C823.4,385.4 825.7,393.7 828.0,402.6 C830.3,411.5 832.7,420.8 835.0,432.8 C837.3,444.8 839.6,461.8 841.9,474.5 C844.2,487.2 846.4,501.0 848.9,509.3 C851.4,517.6 854.3,524.0 857.0,524.4 C859.7,524.8 861.8,518.4 865.1,511.6 C868.4,504.8 872.6,493.7 876.7,483.8 C880.8,473.9 886.2,456.0 889.5,452.5 C892.8,449.0 894.3,457.5 896.4,462.9 C898.5,468.3 900.1,482.2 902.2,484.9 C904.3,487.6 907.3,485.9 909.2,479.1 C911.1,472.4 912.3,457.1 913.8,444.4 C915.3,431.7 916.6,412.0 918.2,402.7 C919.8,393.4 921.0,392.7 923.4,388.4 C925.8,384.1 928.8,380.0 932.5,376.8 C936.2,373.6 940.1,371.1 945.5,369.0 C950.9,366.9 957.3,365.5 964.9,364.4 C972.5,363.3 977.9,363.1 990.9,362.5 C1003.9,361.9 1027.8,360.7 1042.9,360.5 C1058.1,360.3 1067.8,361.0 1081.8,361.2 C1095.8,361.4 1119.1,361.7 1126.6,361.8"/>
<path stroke="#008000" d="M1160.4,360.4 C1167.6,360.4 1195.8,360.9 1203.3,360.4 C1210.8,359.9 1194.9,357.9 1205.7,357.4 C1216.5,356.9 1255.2,356.2 1268.3,357.4 C1281.4,358.6 1279.5,361.5 1284.5,364.4 C1289.5,367.3 1294.5,370.0 1298.4,374.8 C1302.3,379.6 1305.4,384.4 1307.7,393.3 C1310.0,402.2 1311.0,413.8 1312.3,428.1 C1313.6,442.4 1314.6,461.7 1315.8,479.1 C1317.0,496.5 1317.5,519.9 1319.3,532.5 C1321.0,545.1 1324.0,551.4 1326.3,554.5 C1328.6,557.6 1330.9,555.8 1333.2,551.0 C1335.5,546.2 1337.9,533.6 1340.2,525.5 C1342.5,517.4 1344.6,507.3 1347.1,502.3 C1349.6,497.3 1353.1,501.2 1355.2,495.4 C1357.3,489.6 1358.4,476.9 1359.9,467.6 C1361.5,458.3 1362.6,445.9 1364.5,439.7 C1366.4,433.5 1368.6,434.6 1371.5,430.4 C1374.4,426.1 1379.2,416.1 1381.9,414.2 C1384.6,412.3 1385.8,414.6 1387.7,418.9 C1389.6,423.1 1391.6,441.2 1393.5,439.7 C1395.4,438.1 1396.8,422.7 1399.3,409.6 C1401.8,396.5 1406.1,367.5 1408.6,360.9 C1411.1,354.3 1412.5,363.2 1414.4,370.1 C1416.3,377.1 1417.9,396.6 1420.2,402.6 C1422.5,408.6 1425.4,401.9 1428.3,406.1 C1431.2,410.4 1434.5,420.4 1437.6,428.1 C1440.7,435.8 1443.7,452.5 1446.8,452.5 C1449.9,452.5 1453.0,438.7 1456.1,428.1 C1459.2,417.5 1462.5,400.7 1465.4,388.7 C1468.3,376.7 1471.2,358.5 1473.5,356.2 C1475.8,353.9 1477.6,365.9 1479.3,374.8 C1481.0,383.7 1482.0,399.2 1483.9,409.6 C1485.8,420.0 1488.6,436.2 1490.9,437.4 C1493.2,438.5 1496.0,423.4 1497.9,416.5 C1499.8,409.6 1500.6,400.1 1502.5,395.7 C1504.4,391.3 1507.6,392.8 1509.5,389.9 C1511.4,387.0 1512.6,376.6 1514.1,378.3 C1515.6,380.0 1517.5,399.3 1518.7,400.3 C1519.9,401.3 1519.7,390.7 1521.1,384.1 C1522.5,377.5 1525.4,359.0 1526.9,360.9 C1528.4,362.8 1528.6,391.4 1530.3,395.7 C1532.0,399.9 1535.4,388.7 1537.3,386.4 C1539.2,384.1 1539.6,376.3 1541.9,381.7 C1544.2,387.1 1548.5,416.2 1551.2,418.9 C1553.9,421.6 1555.5,405.7 1558.2,398.0 C1560.9,390.3 1563.9,378.5 1567.4,372.5 C1570.9,366.5 1575.5,363.6 1579.0,362.0 C1582.5,360.4 1586.0,359.9 1588.3,363.2 C1590.6,366.5 1591.8,375.1 1593.0,381.7 C1594.2,388.3 1594.0,401.8 1595.3,402.6 C1596.6,403.4 1599.6,386.8 1601.1,386.4 C1602.6,386.0 1602.0,389.9 1604.5,400.3 C1607.0,410.7 1612.2,435.7 1616.1,449.0 C1620.0,462.3 1625.4,475.3 1627.7,480.3 C1630.0,485.3 1628.6,488.4 1630.0,479.0 C1631.4,469.6 1634.5,440.0 1636.3,424.2 C1638.0,408.4 1638.8,394.5 1640.5,384.2 C1642.2,373.9 1644.5,363.8 1646.3,362.6 C1648.0,361.4 1649.5,366.5 1651.0,376.8 C1652.5,387.1 1654.1,407.5 1655.3,424.2 C1656.5,440.9 1657.0,467.4 1658.4,476.9 C1659.8,486.4 1660.9,477.2 1663.7,481.1 C1666.5,485.0 1672.3,500.7 1675.3,500.0 C1678.3,499.3 1679.8,487.8 1681.6,476.9 C1683.3,466.0 1683.9,449.7 1685.8,434.8 C1687.7,419.9 1690.4,399.7 1693.2,387.4 C1696.0,375.1 1700.2,361.9 1702.7,361.0 C1705.2,360.1 1706.4,372.4 1708.0,382.1 C1709.6,391.8 1710.3,413.4 1712.2,419.0 C1714.1,424.6 1716.7,421.8 1719.5,415.8 C1722.3,409.8 1726.5,386.4 1729.0,383.2 C1731.5,380.0 1732.9,392.9 1734.3,396.9 C1735.7,400.9 1736.2,406.7 1737.4,407.4 C1738.6,408.1 1739.7,398.3 1741.6,401.1 C1743.5,403.9 1746.5,423.9 1749.0,424.2 C1751.5,424.5 1754.1,412.0 1756.4,403.2 C1758.7,394.4 1760.1,377.5 1762.7,371.6 C1765.3,365.7 1769.4,367.9 1772.2,367.9 C1775.0,367.9 1777.0,371.5 1779.6,371.6 C1782.2,371.7 1785.5,367.9 1788.0,368.4 C1790.5,368.9 1792.3,369.9 1794.3,374.7 C1796.3,379.4 1798.0,396.5 1800.1,396.9 C1802.2,397.2 1804.8,381.6 1807.0,376.8 C1809.2,372.1 1811.2,369.3 1813.3,368.4 C1815.4,367.5 1816.8,372.3 1819.6,371.6 C1822.4,370.9 1827.0,365.2 1830.0,364.2 C1833.0,363.1 1830.2,364.8 1837.5,365.3 C1844.8,365.8 1861.5,364.5 1873.5,367.0 C1885.5,369.5 1900.8,380.7 1909.6,380.1 C1918.3,379.6 1920.5,361.0 1926.0,363.7 C1931.5,366.4 1937.9,395.7 1942.3,396.5 C1946.7,397.3 1947.3,373.8 1952.2,368.6 C1957.1,363.4 1963.6,363.1 1971.8,365.3 C1980.0,367.5 1991.5,379.0 2001.3,381.7 C2011.1,384.4 2022.6,383.6 2030.8,381.7 C2039.0,379.8 2041.5,373.0 2050.5,370.3 C2059.5,367.6 2079.2,366.1 2085.0,365.3"/>
<path stroke="#000080" d="M204.0,384.0 L204.0,181.5 C207.2,181.8 207.7,183.1 222.9,183.0 C238.1,182.9 274.8,181.2 295.0,181.0 C315.2,180.8 330.7,181.2 344.1,181.5 C357.5,181.8 368.5,182.1 375.3,182.5 C382.1,182.9 381.8,183.0 385.0,184.0 C388.2,185.0 389.9,184.4 394.7,188.5 C399.5,192.6 407.5,202.1 414.0,208.7 C420.5,215.3 427.0,221.7 433.5,228.2 C440.0,234.7 446.5,242.4 453.0,247.6 C459.5,252.8 466.0,255.7 472.5,259.3 C479.0,262.9 485.5,266.4 492.0,269.0 C498.5,271.6 505.0,273.6 511.5,274.9 C518.0,276.2 525.1,276.5 531.0,276.8 C536.9,277.1 540.2,277.1 546.7,276.8 C553.2,276.5 561.1,275.8 570.0,275.2 C578.9,274.6 591.9,274.3 600.0,273.5 C608.1,272.7 609.6,271.9 618.6,270.6 C627.6,269.4 642.7,268.6 653.8,266.0 C664.9,263.4 675.7,259.0 685.3,254.8 C694.9,250.6 703.9,245.1 711.3,240.9 C718.7,236.7 722.8,233.5 729.9,229.8 C737.0,226.1 748.8,221.0 754.0,218.7 C759.2,216.4 756.1,219.2 761.4,215.9 C766.6,212.7 778.4,203.8 785.5,199.2 C792.6,194.5 799.1,190.5 804.1,188.0 C809.1,185.5 812.1,184.6 815.2,184.3 C818.3,184.0 819.5,184.5 822.6,186.2 C825.7,187.9 828.8,189.1 833.8,194.5 C838.8,199.9 848.0,214.4 852.3,218.6 C856.6,222.8 856.3,220.4 859.7,219.6 C863.1,218.8 868.4,214.0 872.7,214.0 C877.0,214.0 881.1,218.7 885.7,219.6 C890.4,220.5 895.6,222.2 900.6,219.6 C905.6,217.0 909.9,208.3 915.5,203.8 C921.1,199.3 926.3,195.8 934.0,192.7 C941.7,189.6 950.9,187.0 961.9,185.3 C972.9,183.6 990.3,183.2 1000.0,182.5 C1009.7,181.8 1011.2,181.2 1020.0,181.0 C1028.8,180.8 1045.5,180.5 1052.5,181.0 C1059.5,181.5 1049.4,183.1 1061.8,183.8 C1074.2,184.5 1115.9,185.1 1126.7,185.4"/>
<path stroke="#000080" d="M1160.2,181.2 C1173.8,181.4 1224.8,182.0 1241.8,182.4 C1258.8,182.8 1255.4,181.1 1262.2,183.7 C1269.0,186.3 1275.9,192.5 1282.7,197.8 C1289.5,203.1 1297.9,210.9 1303.0,215.6 C1308.1,220.3 1309.9,219.4 1313.3,225.8 C1316.7,232.2 1320.8,246.5 1323.5,253.9 C1326.2,261.4 1326.4,270.1 1329.8,270.5 C1333.2,270.9 1339.9,257.9 1343.9,256.4 C1347.9,254.9 1350.0,257.9 1354.0,261.5 C1358.0,265.1 1363.8,276.0 1368.1,278.1 C1372.4,280.2 1373.8,278.3 1379.6,274.3 C1385.3,270.3 1394.5,257.9 1402.6,253.9 C1410.7,249.8 1421.2,253.0 1428.0,250.0 C1434.8,247.0 1438.3,243.4 1443.4,236.0 C1448.5,228.6 1454.0,214.1 1458.7,205.4 C1463.4,196.7 1467.6,185.0 1471.4,183.7 C1475.2,182.4 1478.6,192.3 1481.6,197.8 C1484.6,203.3 1483.3,210.5 1489.3,216.9 C1495.2,223.3 1510.5,232.6 1517.3,236.0 C1524.1,239.4 1525.8,234.3 1530.1,237.3 C1534.4,240.3 1539.1,254.5 1542.9,253.9 C1546.7,253.3 1549.7,239.0 1553.1,233.5 C1556.5,228.0 1559.5,221.8 1563.3,220.7 C1567.1,219.6 1571.8,227.5 1576.0,227.1 C1580.2,226.7 1583.7,225.8 1588.8,218.2 C1593.9,210.5 1600.6,184.2 1606.6,181.2 C1612.5,178.2 1619.0,200.1 1624.5,200.3 C1630.0,200.5 1635.5,183.2 1639.8,182.4 C1644.0,181.6 1646.2,189.2 1650.0,195.2 C1653.8,201.2 1658.5,207.1 1662.8,218.2 C1667.0,229.2 1672.5,254.1 1675.5,261.5 C1678.5,268.9 1678.5,263.7 1680.6,262.8 C1682.7,261.9 1684.5,252.7 1688.3,256.4 C1692.0,260.1 1696.2,276.7 1703.1,285.0 C1709.9,293.3 1723.9,302.6 1729.4,306.4 C1734.9,310.2 1733.2,308.3 1735.9,308.0 C1738.6,307.7 1741.9,304.7 1745.7,304.7 C1749.5,304.7 1754.4,311.0 1758.8,308.0 C1763.2,305.0 1766.5,297.1 1772.0,286.7 C1777.5,276.3 1785.0,257.4 1791.6,245.7 C1798.1,234.0 1805.3,225.0 1811.3,216.3 C1817.3,207.6 1822.8,195.0 1827.7,193.3 C1832.6,191.7 1836.4,207.5 1840.8,206.4 C1845.2,205.3 1848.5,191.2 1853.9,186.8 C1859.4,182.4 1868.9,179.9 1873.5,180.2 C1878.1,180.5 1879.0,188.1 1881.7,188.4 C1884.4,188.7 1881.4,183.4 1889.9,181.9 C1898.4,180.4 1923.2,178.8 1932.5,179.6 C1941.8,180.4 1934.7,185.3 1945.6,186.8 C1956.5,188.3 1984.3,188.4 1998.0,188.4 C2011.7,188.4 2019.8,186.2 2027.5,186.8 C2035.2,187.4 2039.0,192.5 2043.9,191.7 C2048.8,190.9 2050.2,183.3 2057.0,181.9 C2063.8,180.5 2080.3,183.2 2085.0,183.5"/>
</g>
<g fill="none" stroke="#000">
<path d="M547.2,214.7 V318.6" stroke-width="2.8" stroke-dasharray="3.8 7.4"/>
<path d="M613.5,255.7 V1398.7" stroke-width="2.8" stroke-dasharray="3.8 7.4"/>
<path d="M853.5,139.7 V1427.5" stroke-width="2.8" stroke-dasharray="3.8 7.4"/>
<path d="M901.8,149.0 V1434.0" stroke-width="2.8" stroke-dasharray="3.8 7.4"/>
<path d="M1322.8,150.6 V1440.2" stroke-width="2.8" stroke-dasharray="3.8 7.4"/>
<path d="M1370.0,238.6 V1382.0" stroke-width="2.8" stroke-dasharray="3.8 7.4"/>
<path d="M1681.7,192.7 V296.0" stroke-width="2.8" stroke-dasharray="3.8 7.4"/>
<path d="M1331.8,155.7 V1431.5" stroke-width="3" stroke-dasharray="9.5 8.7"/>
</g>
<g fill="#000" stroke="none">
<path d="M487.9,176.3 L515.0,209.9" stroke="#000" stroke-width="4" fill="none"/>
<path d="M534.7,237.8 L506.0,214.7 L521.6,202.1 L538.1,235.0 Z"/>
<path d="M991.0,110.7 L944.2,140.9" stroke="#000" stroke-width="4" fill="none"/>
<path d="M914.5,157.6 L940.5,131.5 L951.4,148.2 L916.9,161.2 Z"/>
<path d="M1415.3,132.7 L1366.9,162.5" stroke="#000" stroke-width="4" fill="none"/>
<path d="M1336.8,178.5 L1363.4,153.0 L1373.9,170.0 L1339.2,182.3 Z"/>
<path d="M1781.8,157.3 L1767.7,181.8" stroke="#000" stroke-width="4" fill="none"/>
<path d="M1748.8,210.2 L1760.0,175.1 L1777.3,185.1 L1752.6,212.4 Z"/>
<path d="M1612.7,295.2 L1643.9,287.3" stroke="#000" stroke-width="4" fill="none"/>
<path d="M1677.4,281.0 L1644.5,297.5 L1639.5,278.1 L1676.4,276.8 Z"/>
<path d="M757.4,515.3 L809.9,543.7" stroke="#000" stroke-width="4" fill="none"/>
<path d="M838.8,561.8 L803.4,551.6 L812.9,534.0 L840.8,558.0 Z"/>
<path d="M1449.2,515.6 L1398.1,547.1" stroke="#000" stroke-width="4" fill="none"/>
<path d="M1368.0,563.1 L1394.6,537.6 L1405.1,554.6 L1370.4,566.9 Z"/>
<path d="M519.5,1366.6 L567.4,1378.8" stroke="#000" stroke-width="4" fill="none"/>
<path d="M599.8,1389.3 L562.9,1388.0 L567.9,1368.6 L600.8,1385.1 Z"/>
<path d="M1227.6,1363.2 L1283.2,1387.0" stroke="#000" stroke-width="4" fill="none"/>
<path d="M1313.6,1402.4 L1277.5,1395.4 L1285.3,1377.0 L1315.4,1398.4 Z"/>
</g>
<g font-family="Liberation Sans, Arial, sans-serif" fill="#000">
<text transform="translate(119.35,1545.30) scale(1.0581,1)" font-size="70.42" font-weight="bold" fill="#000">4000</text>
<text transform="translate(428.73,1545.30) scale(1.0459,1)" font-size="70.42" font-weight="bold" fill="#000">3500</text>
<text transform="translate(736.92,1545.30) scale(1.0512,1)" font-size="70.42" font-weight="bold" fill="#000">3000</text>
<text transform="translate(1076.76,1545.30) scale(1.0587,1)" font-size="70.42" font-weight="bold" fill="#000">2000</text>
<text transform="translate(1386.45,1545.30) scale(1.0536,1)" font-size="70.42" font-weight="bold" fill="#000">1500</text>
<text transform="translate(1695.97,1545.30) scale(1.0483,1)" font-size="70.42" font-weight="bold" fill="#000">1000</text>
<text transform="translate(2025.33,1545.30) scale(1.0286,1)" font-size="70.42" font-weight="bold" fill="#000">500</text>
<text transform="translate(390.62,159.10) scale(1.0773,1)" font-size="50.28" font-weight="bold" fill="#000">3442</text>
<text transform="translate(563.24,224.02) scale(1.1161,1)" font-size="48.45" font-weight="bold" fill="#000">-O-H</text>
<text transform="translate(927.96,96.31) scale(1.1174,1)" font-size="49.01" font-weight="bold" fill="#000">2868</text>
<text transform="translate(1354.66,118.70) scale(1.0410,1)" font-size="51.86" font-weight="bold" fill="#000">1724</text>
<text transform="translate(1950.00,91.20) scale(1.0772,1)" font-size="50.43" font-weight="bold" fill="#000">FTIR</text>
<text transform="translate(215.80,304.28) scale(1.0494,1)" font-size="52.30" font-weight="bold" fill="#000">Chitosan</text>
<text transform="translate(215.76,454.40) scale(1.0992,1)" font-size="49.86" font-weight="bold" fill="#000">PCL-PU-M20</text>
<text transform="translate(677.96,500.70) scale(1.0860,1)" font-size="50.28" font-weight="bold" fill="#000">2947</text>
<text transform="translate(1388.64,510.69) scale(1.0717,1)" font-size="50.70" font-weight="bold" fill="#000">1662</text>
<text transform="translate(711.33,782.60) scale(1.0779,1)" font-size="50.28" font-weight="bold" fill="#000">-C-H</text>
<text transform="translate(1385.04,745.06) scale(1.0770,1)" font-size="33.80" font-weight="bold" fill="#000">-C-N-H</text>
<text transform="translate(938.15,1171.51) scale(1.1008,1)" font-size="48.87" font-weight="bold" fill="#000">-C-H</text>
<text transform="translate(1166.64,1203.12) scale(1.1365,1)" font-size="47.61" font-weight="bold" fill="#000">-C=O</text>
<text transform="translate(1117.92,1354.52) scale(1.1494,1)" font-size="47.61" font-weight="bold" fill="#000">1732</text>
<text transform="translate(386.90,1384.46) scale(1.0250,1)" font-size="53.52" font-weight="bold" fill="#000">3332</text>
<text transform="translate(642.24,1374.60) scale(1.0605,1)" font-size="51.01" font-weight="bold" fill="#000">-N-H</text>
<text transform="translate(212.86,669.69) scale(1.0802,1)" font-size="50.85" font-weight="bold" fill="#000">PCL-PU-M10</text>
<text transform="translate(212.07,892.69) scale(1.0737,1)" font-size="50.99" font-weight="bold" fill="#000">PCL-PU-M7.5</text>
<text transform="translate(220.35,1093.79) scale(1.0864,1)" font-size="50.56" font-weight="bold" fill="#000">PCL-PU-M5</text>
<text transform="translate(218.69,1305.01) scale(1.1010,1)" font-size="49.44" font-weight="bold" fill="#000">PCL-PU</text>
<text transform="translate(802.00,1679.24) scale(1.1320,1)" font-size="66.22" font-weight="bold" fill="#000">Wavenumber</text>
<text transform="translate(1290.64,1678.97) scale(1.1130,1)" font-size="65.85" font-weight="bold" fill="#000">(cm</text>
<text transform="translate(1423.82,1639.80) scale(0.8628,1)" font-size="40.00" font-weight="bold" fill="#000">-1</text>
<text transform="translate(1464.20,1678.97) scale(0.9274,1)" font-size="65.85" font-weight="bold" fill="#000">)</text>
<text transform="translate(1587.43,145.75) scale(1.0877,1)" font-size="45.27" font-weight="bold" fill="#000">skeletal</text>
<text transform="translate(1782.40,146.20) scale(1.1504,1)" font-size="40.57" font-weight="bold" fill="#000">ν</text>
<text transform="translate(1818.66,144.62) scale(1.1169,1)" font-size="43.72" font-weight="bold" fill="#000">(C-O)</text>
<text transform="translate(1492.20,337.60) scale(1.2811,1)" font-size="26.98" font-weight="normal" fill="#000">ν</text>
<text transform="translate(1509.25,350.64) scale(1.3482,1)" font-size="15.82" font-weight="normal" fill="#000" stroke="#000" stroke-width="0.75" stroke-linejoin="round">as</text>
<text transform="translate(1532.90,338.53) scale(1.0749,1)" font-size="34.15" font-weight="normal" fill="#000" stroke="#000" stroke-width="0.75" stroke-linejoin="round">(-C-O-C-)</text>
<text transform="translate(1489.75,294.35) scale(1.1047,1)" font-size="34.51" font-weight="normal" fill="#000" stroke="#000" stroke-width="0.75" stroke-linejoin="round">1159</text>
<text transform="translate(80.74,1029.72) rotate(-90) scale(0.9420,1)" font-size="75.95" font-weight="bold">Transmittance</text>
</g>
</svg></body></html>
